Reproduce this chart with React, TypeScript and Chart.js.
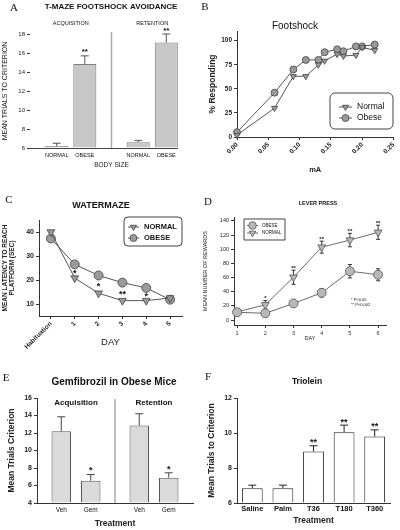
import React, { useEffect, useRef } from 'react';
import { Chart, registerables } from 'chart.js';

Chart.register(...registerables);

const SANS = "'Liberation Sans', Arial, sans-serif";
const SERIF = "'Liberation Serif', 'Times New Roman', serif";
Chart.defaults.font.family = SANS;
Chart.defaults.color = '#222';

// ---------------- data ----------------
// A: T-maze footshock avoidance
const aGroups = ['ACQUISITION', 'RETENTION'];
const aNormal = [6.2, 6.6];
const aNormalErr = [0.3, 0.2];
const aObese = [14.85, 17.1];
const aObeseErr = [0.85, 0.9];
const aObeseStars = ['**', '**'];
const aYTicks = [6, 8, 10, 12, 14, 16, 18];

// B: Footshock
const bCurrent = [0, 0.06, 0.09, 0.11, 0.13, 0.14, 0.16, 0.17, 0.19, 0.2, 0.22];
const bNormal = [2, 30, 63, 63, 75, 79, 86, 84, 85, 93, 90];
const bObese = [5, 46, 70, 80, 80, 88, 91, 89, 94, 94, 96];
const bYTicks = [0, 25, 50, 75, 100];
const bXTicks = [0, 0.05, 0.1, 0.15, 0.2, 0.25];

// C: Watermaze
const cDays = ['Habituation', '1', '2', '3', '4', '5'];
const cNormal = [40, 20.8, 14.5, 11.4, 11.4, 12.5];
const cObese = [37.3, 26.5, 21.9, 18.9, 16.7, 11.8];
const cStars = ['', '*', '*', '**', '*', ''];
const cYTicks = [10, 20, 30, 40];

// D: Lever press
const dDays = [1, 2, 3, 4, 5, 6];
const dObese = [11, 9.5, 23.5, 38.5, 69, 64];
const dObeseErr = [1.5, 1.5, 2.5, 6, 9.5, 8.5];
const dNormal = [11.5, 21.5, 60.5, 103, 113, 124];
const dNormalErr = [2, 6, 10, 8.5, 9.5, 10];
const dStars = ['', '*', '**', '**', '**', '**'];
const dYTicks = [0, 20, 40, 60, 80, 100, 120, 140];
const dNotes = ['* P<0.05', '** P<0.002'];

// E: Gemfibrozil in obese mice
const eGroups = ['Acquisition', 'Retention'];
const eVeh = [12.2, 12.85];
const eVehErr = [1.65, 1.35];
const eGem = [6.55, 6.9];
const eGemErr = [0.7, 0.55];
const eGemStars = ['*', '*'];
const eYTicks = [4, 6, 8, 10, 12, 14, 16];

// F: Triolein
const fTreatments = ['Saline', 'Palm', 'T36', 'T180', 'T360'];
const fTrials = [6.85, 6.85, 8.95, 10.05, 9.8];
const fErr = [0.17, 0.17, 0.32, 0.4, 0.38];
const fStars = ['', '', '**', '**', '**'];
const fYTicks = [6, 8, 10, 12];

// ---------------- helpers ----------------
const fnt = (size: number, bold?: boolean, serif?: boolean) =>
  `${bold ? 'bold ' : ''}${size}px ${serif ? SERIF : SANS}`;

type Txt = { t: string; x: number; y: number; size: number; bold?: boolean; serif?: boolean; align?: CanvasTextAlign; color?: string };
type Legend = { x: number; y: number; w: number; h: number; r: number; rows: number[]; lx1: number; lx2: number; tx: number; size: number; bold?: boolean; mr: number };
type Deco = {
  texts?: Txt[];
  errors?: Record<number, number[]>;
  errBoth?: boolean;
  errBehind?: boolean;
  cap?: number;
  errColor?: string;
  stars?: Record<number, string[]>;
  starSize?: number;
  starGap?: number;
  midStars?: string[];
  barLabels?: { dy: number; size: number; bold?: boolean };
  groupLabels?: { dy: number; size: number; bold?: boolean };
  divider?: { dyTop: number; color: string; width: number };
  axisLineTo?: { x: number; color: string };
  legend?: Legend;
};

function drawMarker(ctx: CanvasRenderingContext2D, style: string, x: number, y: number, r: number, rot: number, fill: string, stroke: string, bw: number) {
  ctx.beginPath();
  if (style === 'triangle') {
    let a = (rot || 0) * Math.PI / 180;
    ctx.moveTo(x + Math.sin(a) * r, y - Math.cos(a) * r);
    a += (2 * Math.PI) / 3;
    ctx.lineTo(x + Math.sin(a) * r, y - Math.cos(a) * r);
    a += (2 * Math.PI) / 3;
    ctx.lineTo(x + Math.sin(a) * r, y - Math.cos(a) * r);
    ctx.closePath();
  } else {
    ctx.arc(x, y, r, 0, Math.PI * 2);
  }
  ctx.fillStyle = fill;
  ctx.fill();
  ctx.strokeStyle = stroke;
  ctx.lineWidth = bw;
  ctx.stroke();
}

function valueOf(meta: any, i: number, axis: string) {
  return meta.controller.getParsed(i)[axis];
}

function drawErrors(chart: any, cfg: Deco) {
  const ctx: CanvasRenderingContext2D = chart.ctx;
  const cap = cfg.cap ?? 3;
  Object.entries(cfg.errors || {}).forEach(([k, errs]) => {
    const meta = chart.getDatasetMeta(Number(k));
    const ys = chart.scales[meta.yAxisID];
    ctx.save();
    ctx.strokeStyle = cfg.errColor || '#444';
    ctx.lineWidth = 1;
    meta.data.forEach((el: any, i: number) => {
      const e = errs[i];
      if (!e) return;
      const v = valueOf(meta, i, 'y');
      const x = el.x;
      const yT = ys.getPixelForValue(v + e);
      const yB = ys.getPixelForValue(cfg.errBoth ? v - e : v);
      ctx.beginPath();
      ctx.moveTo(x, yB);
      ctx.lineTo(x, yT);
      ctx.moveTo(x - cap, yT);
      ctx.lineTo(x + cap, yT);
      if (cfg.errBoth) {
        ctx.moveTo(x - cap, yB);
        ctx.lineTo(x + cap, yB);
      }
      ctx.stroke();
    });
    ctx.restore();
  });
}

function deco(cfg: Deco) {
  return {
    id: 'deco',
    beforeDatasetsDraw(chart: any) {
      const ctx: CanvasRenderingContext2D = chart.ctx;
      const area = chart.chartArea;
      if (cfg.divider) {
        const xs = chart.scales.x;
        const x = (xs.getPixelForValue(0) + xs.getPixelForValue(1)) / 2;
        ctx.save();
        ctx.strokeStyle = cfg.divider.color;
        ctx.lineWidth = cfg.divider.width;
        ctx.beginPath();
        ctx.moveTo(x, area.top + cfg.divider.dyTop);
        ctx.lineTo(x, area.bottom);
        ctx.stroke();
        ctx.restore();
      }
      if (cfg.axisLineTo) {
        ctx.save();
        ctx.strokeStyle = cfg.axisLineTo.color;
        ctx.lineWidth = 1;
        ctx.beginPath();
        ctx.moveTo(area.left, Math.round(area.bottom) + 0.5);
        ctx.lineTo(cfg.axisLineTo.x, Math.round(area.bottom) + 0.5);
        ctx.stroke();
        ctx.restore();
      }
      if (cfg.errors && cfg.errBehind) drawErrors(chart, cfg);
    },
    afterDatasetsDraw(chart: any) {
      const ctx: CanvasRenderingContext2D = chart.ctx;
      const area = chart.chartArea;
      if (cfg.errors && !cfg.errBehind) drawErrors(chart, cfg);
      ctx.save();
      ctx.fillStyle = '#111';
      ctx.textAlign = 'center';
      if (cfg.stars) {
        ctx.textBaseline = 'alphabetic';
        ctx.font = fnt(cfg.starSize ?? 8, true);
        Object.entries(cfg.stars).forEach(([k, labels]) => {
          const di = Number(k);
          const meta = chart.getDatasetMeta(di);
          const ys = chart.scales[meta.yAxisID];
          const errs = cfg.errors?.[di] || [];
          meta.data.forEach((el: any, i: number) => {
            const s = labels[i];
            if (!s) return;
            const v = valueOf(meta, i, 'y') + (errs[i] || 0);
            ctx.fillText(s, el.x, ys.getPixelForValue(v) - (cfg.starGap ?? 1));
          });
        });
      }
      if (cfg.midStars) {
        const size = cfg.starSize ?? 9;
        ctx.font = fnt(size, true);
        ctx.textBaseline = 'alphabetic';
        const m0 = chart.getDatasetMeta(0);
        const m1 = chart.getDatasetMeta(1);
        const ys = chart.scales[m0.yAxisID];
        cfg.midStars.forEach((s, i) => {
          if (!s) return;
          const mid = (valueOf(m0, i, 'y') + valueOf(m1, i, 'y')) / 2;
          ctx.fillText(s, m0.data[i].x, ys.getPixelForValue(mid) + size * 0.55);
        });
      }
      if (cfg.barLabels) {
        const b = cfg.barLabels;
        ctx.font = fnt(b.size, b.bold);
        ctx.textBaseline = 'middle';
        chart.data.datasets.forEach((ds: any, di: number) => {
          chart.getDatasetMeta(di).data.forEach((el: any) => {
            ctx.fillText(ds.label, el.x, area.bottom + b.dy);
          });
        });
      }
      if (cfg.groupLabels) {
        const g = cfg.groupLabels;
        const xs = chart.scales.x;
        ctx.font = fnt(g.size, g.bold);
        ctx.textBaseline = 'middle';
        (chart.data.labels as string[]).forEach((lab, i) => {
          ctx.fillText(lab, xs.getPixelForValue(i), area.top + g.dy);
        });
      }
      ctx.restore();
    },
    afterDraw(chart: any) {
      const ctx: CanvasRenderingContext2D = chart.ctx;
      (cfg.texts || []).forEach((t) => {
        ctx.save();
        ctx.font = fnt(t.size, t.bold, t.serif);
        ctx.fillStyle = t.color || '#111';
        ctx.textAlign = t.align || 'center';
        ctx.textBaseline = 'middle';
        ctx.fillText(t.t, t.x, t.y);
        ctx.restore();
      });
      const L = cfg.legend;
      if (L) {
        ctx.save();
        ctx.beginPath();
        const { x, y, w, h, r } = L;
        ctx.moveTo(x + r, y);
        ctx.arcTo(x + w, y, x + w, y + h, r);
        ctx.arcTo(x + w, y + h, x, y + h, r);
        ctx.arcTo(x, y + h, x, y, r);
        ctx.arcTo(x, y, x + w, y, r);
        ctx.closePath();
        ctx.strokeStyle = '#444';
        ctx.lineWidth = 1;
        ctx.stroke();
        chart.data.datasets.forEach((ds: any, i: number) => {
          const ry = L.rows[i];
          ctx.beginPath();
          ctx.moveTo(L.lx1, ry);
          ctx.lineTo(L.lx2, ry);
          ctx.strokeStyle = ds.borderColor;
          ctx.lineWidth = ds.borderWidth;
          ctx.stroke();
          drawMarker(ctx, ds.pointStyle, (L.lx1 + L.lx2) / 2, ry, L.mr, ds.pointRotation || 0, ds.pointBackgroundColor, ds.pointBorderColor, ds.pointBorderWidth);
          ctx.font = fnt(L.size, L.bold);
          ctx.fillStyle = '#111';
          ctx.textAlign = 'left';
          ctx.textBaseline = 'middle';
          ctx.fillText(ds.label, L.tx, ry);
        });
        ctx.restore();
      }
    },
  };
}

const base = (padding: any) => ({
  responsive: false,
  maintainAspectRatio: false,
  animation: false as const,
  events: [] as any[],
  layout: { padding },
  plugins: { legend: { display: false }, title: { display: false }, tooltip: { enabled: false } },
});

type YA = { min: number; max: number; ticks: number[]; w: number; font: number; bold?: boolean; title: string | string[]; tsize: number; tbold?: boolean; tpad: number; border?: boolean };
const yAxis = (o: YA) => ({
  min: o.min,
  max: o.max,
  afterBuildTicks: (s: any) => { s.ticks = o.ticks.map((v) => ({ value: v })); },
  afterFit: (s: any) => { s.width = o.w; },
  ticks: { font: { size: o.font, weight: o.bold ? 'bold' : 'normal' }, color: '#222', padding: 2, autoSkip: false },
  grid: { drawOnChartArea: false, drawTicks: true, tickLength: 3, color: '#333' },
  border: { display: o.border !== false, color: '#333', width: 1 },
  title: { display: true, text: o.title, color: '#222', font: { size: o.tsize, weight: o.tbold ? 'bold' : 'normal' }, padding: { top: o.tpad, bottom: 0 } },
});

const xTitle = (text: string, size: number, bold: boolean, pb: number) => ({
  display: true, text, color: '#222', font: { size, weight: bold ? 'bold' : 'normal' }, padding: { top: 0, bottom: pb },
});

// ---------------- charts ----------------
function chartA(): any {
  const st = { backgroundColor: '#c8c8c8', borderColor: '#7c7c7c', borderWidth: 1, base: 6, categoryPercentage: 0.69, barPercentage: 0.82 };
  return {
    type: 'bar',
    data: {
      labels: aGroups,
      datasets: [
        { label: 'NORMAL', data: aNormal, ...st },
        { label: 'OBESE', data: aObese, ...st },
      ],
    },
    options: {
      ...base({ left: 0, top: 34, right: 7, bottom: 0 }),
      scales: {
        x: {
          afterFit: (s: any) => { s.height = 24; },
          ticks: { display: false },
          grid: { display: false, drawTicks: false },
          border: { display: false },
          title: xTitle('BODY SIZE', 6.5, false, 3),
        },
        y: yAxis({ min: 6, max: 18, ticks: aYTicks, w: 30, font: 6, title: 'MEAN TRIALS TO CRITERION', tsize: 7, tpad: 1, border: false }),
      },
    },
    plugins: [
      deco({
        errors: { 0: aNormalErr, 1: aObeseErr },
        cap: 4,
        errColor: '#555',
        stars: { 1: aObeseStars },
        starSize: 8,
        starGap: 1.5,
        barLabels: { dy: 7, size: 5.5 },
        groupLabels: { dy: -11, size: 5.5 },
        divider: { dyTop: -2, color: '#a8a8a8', width: 1.5 },
        axisLineTo: { x: 178, color: '#444' },
        texts: [
          { t: 'A', x: 14, y: 8, size: 11, serif: true },
          { t: 'T-MAZE FOOTSHOCK AVOIDANCE', x: 111, y: 7, size: 8, bold: true },
        ],
      }),
    ],
  };
}

function chartB(): any {
  const line = { borderColor: '#555', borderWidth: 1, pointRadius: 3.5, pointBackgroundColor: '#9a9a9a', pointBorderColor: '#444', pointBorderWidth: 0.8, clip: false };
  return {
    type: 'line',
    data: {
      datasets: [
        { label: 'Normal', data: bCurrent.map((x, i) => ({ x, y: bNormal[i] })), pointStyle: 'triangle', pointRotation: 180, ...line },
        { label: 'Obese', data: bCurrent.map((x, i) => ({ x, y: bObese[i] })), pointStyle: 'circle', ...line },
      ],
    },
    options: {
      ...base({ left: 0, top: 31, right: 5, bottom: 0 }),
      scales: {
        x: {
          type: 'linear',
          min: 0,
          max: 0.25,
          afterBuildTicks: (s: any) => { s.ticks = bXTicks.map((v) => ({ value: v })); },
          afterFit: (s: any) => { s.height = 43; },
          ticks: { font: { size: 6.5, weight: 'bold' }, color: '#222', minRotation: 45, maxRotation: 45, padding: 1, autoSkip: false, callback: (v: any) => Number(v).toFixed(2) },
          grid: { drawOnChartArea: false, tickLength: 3, color: '#333' },
          border: { color: '#333', width: 1 },
          title: xTitle('mA', 7.5, true, 6),
        },
        y: yAxis({ min: 0, max: 110, ticks: bYTicks, w: 37, font: 6.5, bold: true, title: '% Responding', tsize: 8.5, tbold: true, tpad: 8 }),
      },
    },
    plugins: [
      deco({
        legend: { x: 130, y: 93, w: 63, h: 36, r: 5, rows: [107, 118], lx1: 139, lx2: 152, tx: 157, size: 8.5, mr: 3.5 },
        texts: [
          { t: 'B', x: 5, y: 7, size: 11, serif: true },
          { t: 'Footshock', x: 95, y: 26, size: 10 },
        ],
      }),
    ],
  };
}

function chartC(): any {
  const line = { borderColor: '#555', borderWidth: 1, pointRadius: 4.5, pointBackgroundColor: '#9a9a9a', pointBorderColor: '#444', pointBorderWidth: 0.8, clip: false };
  return {
    type: 'line',
    data: {
      labels: cDays,
      datasets: [
        { label: 'NORMAL', data: cNormal, pointStyle: 'triangle', pointRotation: 180, ...line },
        { label: 'OBESE', data: cObese, pointStyle: 'circle', ...line },
      ],
    },
    options: {
      ...base({ left: 0, top: 48, right: 18, bottom: 0 }),
      scales: {
        x: {
          offset: true,
          afterFit: (s: any) => { s.height = 36; },
          ticks: { font: { size: 6.5, weight: 'bold' }, color: '#222', minRotation: 45, maxRotation: 45, padding: 1, autoSkip: false },
          grid: { drawOnChartArea: false, tickLength: 3, color: '#333', offset: false },
          border: { color: '#333', width: 1 },
          title: xTitle('DAY', 9.5, false, 4),
        },
        y: yAxis({ min: 5, max: 45, ticks: cYTicks, w: 39, font: 7, bold: true, title: ['MEAN LATENCY TO REACH', 'PLATFORM (SEC)'], tsize: 6.5, tbold: true, tpad: 1 }),
      },
    },
    plugins: [
      deco({
        midStars: cStars,
        starSize: 9,
        legend: { x: 124, y: 45, w: 58, h: 29, r: 4, rows: [55, 66], lx1: 128, lx2: 139, tx: 144, size: 7.5, bold: true, mr: 3.5 },
        texts: [
          { t: 'C', x: 9, y: 28, size: 11, serif: true },
          { t: 'WATERMAZE', x: 101, y: 34, size: 9, bold: true },
        ],
      }),
    ],
  };
}

function chartD(): any {
  const line = { borderColor: '#444', borderWidth: 0.8, pointRadius: 4.5, pointBackgroundColor: '#b8b8b8', pointBorderColor: '#555', pointBorderWidth: 0.8, clip: false };
  return {
    type: 'line',
    data: {
      datasets: [
        { label: 'OBESE', data: dDays.map((x, i) => ({ x, y: dObese[i] })), pointStyle: 'circle', ...line },
        { label: 'NORMAL', data: dDays.map((x, i) => ({ x, y: dNormal[i] })), pointStyle: 'triangle', pointRotation: 180, ...line },
      ],
    },
    options: {
      ...base({ left: 0, top: 45, right: 14, bottom: 0 }),
      scales: {
        x: {
          type: 'linear',
          min: 0.89,
          max: 6.28,
          afterBuildTicks: (s: any) => { s.ticks = dDays.map((v) => ({ value: v })); },
          afterFit: (s: any) => { s.height = 27; },
          ticks: { font: { size: 5.5 }, color: '#333', padding: 2, autoSkip: false },
          grid: { drawOnChartArea: false, tickLength: 3, color: '#333' },
          border: { color: '#333', width: 1 },
          title: xTitle('DAY', 5.5, false, 10),
        },
        y: yAxis({ min: -7, max: 145.6, ticks: dYTicks, w: 34, font: 5.5, title: 'MEAN NUMBER OF REWARDS', tsize: 5.5, tpad: 1.7 }),
      },
    },
    plugins: [
      deco({
        errors: { 0: dObeseErr, 1: dNormalErr },
        errBoth: true,
        errBehind: true,
        cap: 2,
        errColor: '#333',
        stars: { 1: dStars },
        starSize: 6,
        starGap: 0.5,
        legend: { x: 44, y: 47, w: 41, h: 21, r: 0, rows: [53.5, 61], lx1: 47, lx2: 58, tx: 62, size: 4.5, mr: 3.8 },
        texts: [
          { t: 'D', x: 8, y: 30, size: 11, serif: true },
          { t: 'LEVER PRESS', x: 118, y: 31, size: 5.5, bold: true },
          { t: dNotes[0], x: 151, y: 127.5, size: 4, align: 'left' },
          { t: dNotes[1], x: 151, y: 132.5, size: 4, align: 'left' },
        ],
      }),
    ],
  };
}

function chartE(): any {
  const st = { backgroundColor: '#dadada', borderColor: '#555', borderWidth: 1, base: 4, categoryPercentage: 0.756, barPercentage: 0.66 };
  return {
    type: 'bar',
    data: {
      labels: eGroups,
      datasets: [
        { label: 'Veh', data: eVeh, ...st },
        { label: 'Gem', data: eGem, ...st },
      ],
    },
    options: {
      ...base({ left: 0, top: 46, right: 7, bottom: 0 }),
      scales: {
        x: {
          afterFit: (s: any) => { s.height = 27; },
          ticks: { display: false },
          grid: { display: false, drawTicks: false },
          border: { color: '#333', width: 1 },
          title: xTitle('Treatment', 8.5, true, 1),
        },
        y: yAxis({ min: 4, max: 16, ticks: eYTicks, w: 37, font: 7, bold: true, title: 'Mean Trials Criterion', tsize: 8.5, tbold: true, tpad: 7 }),
      },
    },
    plugins: [
      deco({
        errors: { 0: eVehErr, 1: eGemErr },
        cap: 4,
        errColor: '#444',
        stars: { 1: eGemStars },
        starSize: 9,
        starGap: 1.2,
        barLabels: { dy: 7, size: 6.5 },
        groupLabels: { dy: 5, size: 8, bold: true },
        divider: { dyTop: 1, color: '#aaa', width: 1.5 },
        texts: [
          { t: 'E', x: 6, y: 26, size: 11, serif: true },
          { t: 'Gemfibrozil in Obese Mice', x: 114, y: 30.5, size: 10, bold: true },
        ],
      }),
    ],
  };
}

function chartF(): any {
  return {
    type: 'bar',
    data: {
      labels: fTreatments,
      datasets: [
        { label: 'Triolein', data: fTrials, backgroundColor: '#ffffff', borderColor: '#222', borderWidth: 1, base: 6, categoryPercentage: 0.8, barPercentage: 0.85 },
      ],
    },
    options: {
      ...base({ left: 0, top: 46, right: 10, bottom: 0 }),
      scales: {
        x: {
          afterFit: (s: any) => { s.height = 27; },
          ticks: { font: { size: 7.5, weight: 'bold' }, color: '#111', padding: 1, autoSkip: false, maxRotation: 0 },
          grid: { display: false, drawTicks: false },
          border: { color: '#333', width: 1 },
          title: xTitle('Treatment', 8.5, true, 4),
        },
        y: yAxis({ min: 6, max: 12, ticks: fYTicks, w: 37, font: 7, bold: true, title: 'Mean Trials to Criterion', tsize: 8.5, tbold: true, tpad: 7 }),
      },
    },
    plugins: [
      deco({
        errors: { 0: fErr },
        cap: 4,
        errColor: '#222',
        stars: { 0: fStars },
        starSize: 9,
        starGap: 0.5,
        texts: [
          { t: 'F', x: 8, y: 25, size: 11, serif: true },
          { t: 'Triolein', x: 107, y: 30, size: 8.5, bold: true },
        ],
      }),
    ],
  };
}

function Panel({ x, y, w, h, make }: { x: number; y: number; w: number; h: number; make: () => any }) {
  const ref = useRef<HTMLCanvasElement>(null);
  useEffect(() => {
    const c = new Chart(ref.current as HTMLCanvasElement, make());
    return () => c.destroy();
  }, [make]);
  return (
    <div style={{ position: 'absolute', left: x, top: y, width: w, height: h }}>
      <canvas ref={ref} width={w} height={h} style={{ display: 'block', width: w, height: h }} />
    </div>
  );
}

export default function App() {
  return (
    <div style={{ position: 'absolute', left: 0, top: 0, width: 400, height: 530, background: '#ffffff', overflow: 'hidden' }}>
      <Panel x={0} y={0} w={200} h={172} make={chartA} />
      <Panel x={200} y={0} w={200} h={180} make={chartB} />
      <Panel x={0} y={172} w={200} h={180} make={chartC} />
      <Panel x={200} y={172} w={200} h={180} make={chartD} />
      <Panel x={0} y={352} w={200} h={178} make={chartE} />
      <Panel x={200} y={352} w={200} h={178} make={chartF} />
    </div>
  );
}
